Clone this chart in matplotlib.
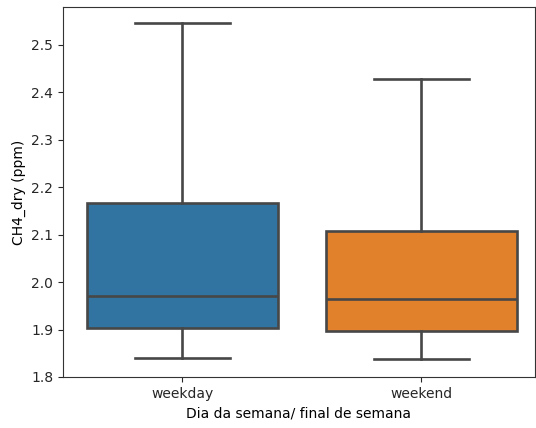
import matplotlib
matplotlib.use("Agg")
import matplotlib.pyplot as plt

categories = ["weekday", "weekend"]
whisker_low = [1.841, 1.838]
q1 = [1.903, 1.897]
median = [1.970, 1.964]
q3 = [2.167, 2.108]
whisker_high = [2.547, 2.428]
colors = ["#3274a1", "#e1812c"]
yticks = [1.8, 1.9, 2.0, 2.1, 2.2, 2.3, 2.4, 2.5]

fig = plt.figure(figsize=(5.36, 4.28), dpi=100)
ax = fig.add_axes([63/536, (428-377)/428, 472/536, 370/428])

stats = []
for i, c in enumerate(categories):
    stats.append(dict(label=c, whislo=whisker_low[i], q1=q1[i], med=median[i],
                      q3=q3[i], whishi=whisker_high[i], fliers=[]))

lc = "#474747"
lw = 1.9
bp = ax.bxp(stats, positions=range(len(categories)), widths=0.8, patch_artist=True,
            showfliers=False,
            boxprops=dict(edgecolor=lc, linewidth=lw),
            medianprops=dict(color=lc, linewidth=lw),
            whiskerprops=dict(color=lc, linewidth=lw),
            capprops=dict(color=lc, linewidth=lw))
for patch, col in zip(bp["boxes"], colors):
    patch.set_facecolor(col)
for cap in bp["caps"]:
    x = cap.get_xdata()
    mid = (x[0] + x[1]) / 2
    cap.set_xdata([mid - 0.2, mid + 0.2])

ax.set_xlim(-0.5, 1.475)
ax.set_ylim(1.8, 2.58)
ax.set_yticks(yticks)
ax.set_yticklabels([f"{v:.1f}" for v in yticks])
ax.set_xticks(range(len(categories)))
ax.set_xticklabels(categories)
ax.tick_params(labelsize=10, colors="#262626")
ax.set_xlabel("Dia da semana/ final de semana", fontsize=10)
ax.set_ylabel("CH4_dry (ppm)", fontsize=10)
for s in ax.spines.values():
    s.set_color("#333333")

fig.savefig("out.png", dpi=100)
